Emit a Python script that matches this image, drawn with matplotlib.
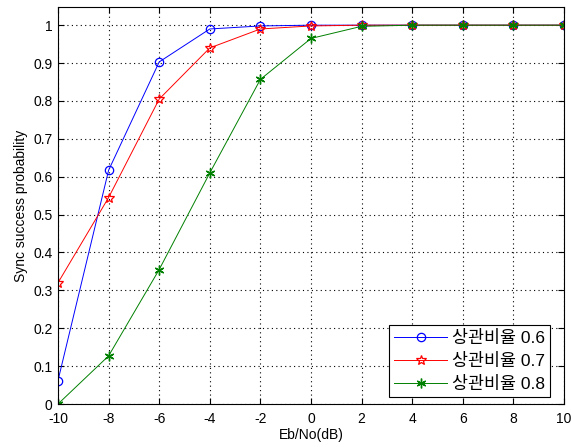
import matplotlib
matplotlib.use("Agg")
import matplotlib.pyplot as plt

plt.rcParams['font.family'] = ['Liberation Sans', 'Noto Sans CJK KR', 'DejaVu Sans']
plt.rcParams['axes.unicode_minus'] = False

x = [-10, -8, -6, -4, -2, 0, 2, 4, 6, 8, 10]
s06 = [0.062, 0.617, 0.903, 0.99, 0.998, 1.0, 1.0, 1.0, 1.0, 1.0, 1.0]
s07 = [0.32, 0.545, 0.805, 0.94, 0.99, 0.998, 1.0, 1.0, 1.0, 1.0, 1.0]
s08 = [0.0, 0.127, 0.355, 0.61, 0.857, 0.965, 0.997, 1.0, 1.0, 1.0, 1.0]
labels = ['상관비율 0.6', '상관비율 0.7', '상관비율 0.8']
xticks = [-10, -8, -6, -4, -2, 0, 2, 4, 6, 8, 10]
yticks = [0, 0.1, 0.2, 0.3, 0.4, 0.5, 0.6, 0.7, 0.8, 0.9, 1]

fig = plt.figure(figsize=(5.71, 4.47), dpi=100)
ax = fig.add_axes([58 / 571, 1 - 404 / 447, 506 / 571, 397 / 447])
ax.plot(x, s06, color='#0000ff', marker='o', mfc='none', ms=6, lw=0.7, mew=0.9, label=labels[0])
ax.plot(x, s07, color='#ff0000', marker='*', mfc='none', ms=7.5, lw=0.7, mew=0.9, label=labels[1])
ax.plot(x, s08, color='#008000', marker=(6, 2, 0), ms=7, lw=0.7, mew=1.0, label=labels[2])
ax.set_xlim(-10, 10)
ax.set_ylim(0, 1.048)
ax.set_xticks(xticks)
ax.set_yticks(yticks)
ax.set_yticklabels([f'{v:g}' for v in yticks])
ax.tick_params(direction='in', top=True, right=True, labelsize=10, length=4, width=0.8)
ax.tick_params(axis='x', pad=6)
ax.tick_params(axis='y', pad=4)
ax.grid(True, linestyle=(0, (1, 3)), color='black', linewidth=0.8)
for s in ax.spines.values():
    s.set_linewidth(0.8)
ax.set_xlabel('Eb/No(dB)', fontsize=10, labelpad=1)
ax.set_ylabel('Sync success probability', fontsize=10, labelpad=4)
leg = ax.legend(loc='lower right', fontsize=12.5, fancybox=False, edgecolor='black',
                framealpha=1, bbox_to_anchor=(550 / 571, 1 - 397 / 447),
                bbox_transform=fig.transFigure, borderaxespad=0,
                handlelength=3.0, labelspacing=0.4, handletextpad=0.3, borderpad=0.3)
leg.get_frame().set_linewidth(0.8)
fig.savefig('out.png', dpi=100)
